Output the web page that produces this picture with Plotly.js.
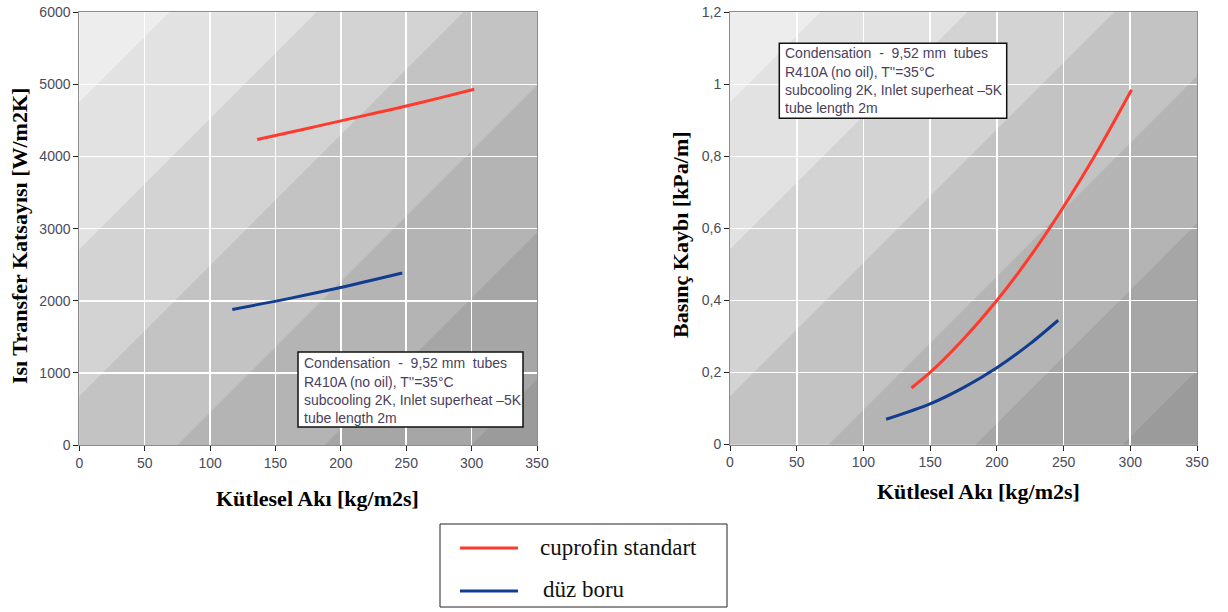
<!DOCTYPE html>
<html>
<head>
<meta charset="utf-8">
<script src="https://cdn.plot.ly/plotly-3.0.1.min.js"></script>
<style>
  html, body { margin: 0; padding: 0; background: #ffffff; }
  #chart { width: 1228px; height: 612px; }
</style>
</head>
<body>
<div id="chart"></div>
<script>
// Mass flux (x, kg/m2s) and results for each tube type
const cuprofinFluxHTC = [136, 170, 200, 230, 250, 275, 302];
const cuprofinHTC     = [4237, 4372, 4495, 4617, 4700, 4810, 4932];
const smoothFluxHTC   = [117, 160, 200, 247];
const smoothHTC       = [1880, 2030, 2185, 2385];

const cuprofinFluxDP  = [136, 150, 175, 200, 225, 250, 275, 301];
const cuprofinDP      = [0.157, 0.20, 0.293, 0.40, 0.522, 0.66, 0.812, 0.985];
const smoothFluxDP    = [117, 150, 175, 200, 225, 246];
const smoothDP        = [0.07, 0.113, 0.158, 0.213, 0.28, 0.345];

// Axis ticks
const fluxTicks   = [0, 50, 100, 150, 200, 250, 300, 350];
const htcTicks    = [0, 1000, 2000, 3000, 4000, 5000, 6000];
const htcLabels   = ['0', '1000', '2000', '3000', '4000', '5000', '6000'];
const dpTicks     = [0, 0.2, 0.4, 0.6, 0.8, 1.0, 1.2];
const dpLabels    = ['0', '0,2', '0,4', '0,6', '0,8', '1', '1,2'];

const seriesNames = ['cuprofin standart', 'düz boru'];
const noteLines = [
  'Condensation  -  9,52 mm  tubes',
  "R410A (no oil), T''=35°C",
  'subcooling 2K, Inlet superheat \u20135K',
  'tube length 2m'
];
const xTitle = 'Kütlesel Akı [kg/m2s]';
const yTitleLeft = 'Isı Transfer Katsayısı [W/m2K]';
const yTitleRight = 'Basınç Kaybı [kPa/m]';

// ---- page geometry (pixels) ----
const W = 1228, H = 612;
const RED = '#ff3a2c', BLUE = '#123c8f';
const plots = [
  { left: 79.3, right: 537, top: 12.3, bottom: 445, xmax: 350, ymax: 6000, xa: 'x', ya: 'y' },
  { left: 730, right: 1197, top: 12.3, bottom: 444.5, xmax: 350, ymax: 1.2, xa: 'x2', ya: 'y2' }
];
const px = x => x / W;
const py = y => 1 - y / H;

// diagonal shading bands (offsets along the diagonal, pixels) and their greys
const bandStarts = [90, 237, 384, 531, 678, 825];
const bandGreys  = ['#e2e2e2', '#d3d3d3', '#c3c3c3', '#b4b4b4', '#a6a6a6', '#9b9b9b'];

const shapes = [];
plots.forEach(p => {
  const pw = p.right - p.left, ph = p.bottom - p.top;
  const toX = u => u / pw * p.xmax;
  const toY = v => (ph - v) / ph * p.ymax;
  bandStarts.forEach((k, i) => {
    const pts = [[k + 2000, -2000], [k - 2000, 2000], [k + 2000, 2000]];
    const d = 'M' + pts.map(q => toX(q[0]) + ',' + toY(q[1])).join(' L') + ' Z';
    shapes.push({ type: 'path', xref: p.xa, yref: p.ya, path: d, layer: 'below',
                  fillcolor: bandGreys[i], line: { width: 0 } });
  });
});

// note boxes
const noteBoxes = [
  { x0: 298, y0: 352, x1: 523, y1: 427, tx: 301.5, ty: [362.7, 381.5, 400, 418.3] },
  { x0: 779.3, y0: 43.3, x1: 1006.7, y1: 118.3, tx: 782.5, ty: [52.7, 71.5, 90, 108.3] }
];
const annotations = [];
noteBoxes.forEach(b => {
  shapes.push({ type: 'rect', xref: 'paper', yref: 'paper', x0: px(b.x0), x1: px(b.x1),
                y0: py(b.y1), y1: py(b.y0), fillcolor: '#ffffff',
                line: { color: '#111111', width: 1.5 }, layer: 'above' });
  noteLines.forEach((t, i) => {
    annotations.push({ xref: 'paper', yref: 'paper', x: px(b.tx), y: py(b.ty[i]),
      xanchor: 'left', yanchor: 'middle', showarrow: false, text: t,
      font: { family: 'Liberation Sans, Arial, sans-serif', size: 14, color: '#4a3f5e' } });
  });
});

// legend box
shapes.push({ type: 'rect', xref: 'paper', yref: 'paper', x0: px(440), x1: px(727),
              y0: py(607), y1: py(524), fillcolor: '#ffffff', line: { color: '#222222', width: 1 } });
[[548, RED], [591, BLUE]].forEach(([y, c]) => {
  shapes.push({ type: 'line', xref: 'paper', yref: 'paper', x0: px(460), x1: px(518),
                y0: py(y), y1: py(y), line: { color: c, width: 3 } });
});
[[547, seriesNames[0], 538], [589, seriesNames[1], 541]].forEach(([y, t, x]) => {
  annotations.push({ xref: 'paper', yref: 'paper', x: px(x), y: py(y), xanchor: 'left',
    yanchor: 'middle', showarrow: false, text: t,
    font: { family: 'Liberation Serif, Times New Roman, serif', size: 23, color: '#111111' } });
});

// axis titles
const titleFont = { family: 'Liberation Serif, Times New Roman, serif', size: 22, color: '#000000' };
annotations.push({ xref: 'paper', yref: 'paper', x: px(317), y: py(498), showarrow: false,
  text: '<b>' + xTitle + '</b>', font: titleFont, xanchor: 'center', yanchor: 'middle' });
annotations.push({ xref: 'paper', yref: 'paper', x: px(978), y: py(491), showarrow: false,
  text: '<b>' + xTitle + '</b>', font: titleFont, xanchor: 'center', yanchor: 'middle' });
annotations.push({ xref: 'paper', yref: 'paper', x: px(20), y: py(236), showarrow: false,
  text: '<b>' + yTitleLeft + '</b>', font: titleFont, textangle: -90, xanchor: 'center', yanchor: 'middle' });
annotations.push({ xref: 'paper', yref: 'paper', x: px(681), y: py(235), showarrow: false,
  text: '<b>' + yTitleRight + '</b>', font: titleFont, textangle: -90, xanchor: 'center', yanchor: 'middle' });

const tickFont = { family: 'Liberation Sans, Arial, sans-serif', size: 14, color: '#4a4a5a' };
function axis(domain, ticks, labels, range, anchor) {
  return {
    domain: domain, range: range, anchor: anchor,
    tickmode: 'array', tickvals: ticks, ticktext: labels,
    showgrid: true, gridcolor: '#ffffff', gridwidth: 1.6, zeroline: false,
    showline: true, linecolor: '#8c8c8c', linewidth: 1, mirror: true,
    ticks: 'outside', ticklen: 5, tickwidth: 1, tickcolor: '#222222',
    tickfont: tickFont, fixedrange: true
  };
}

const line = (c) => ({ color: c, width: 3, shape: 'spline', smoothing: 0.8 });
const traces = [
  { x: cuprofinFluxHTC, y: cuprofinHTC, name: seriesNames[0], mode: 'lines', line: line(RED), xaxis: 'x', yaxis: 'y' },
  { x: smoothFluxHTC, y: smoothHTC, name: seriesNames[1], mode: 'lines', line: line(BLUE), xaxis: 'x', yaxis: 'y' },
  { x: cuprofinFluxDP, y: cuprofinDP, name: seriesNames[0], mode: 'lines', line: line(RED), xaxis: 'x2', yaxis: 'y2' },
  { x: smoothFluxDP, y: smoothDP, name: seriesNames[1], mode: 'lines', line: line(BLUE), xaxis: 'x2', yaxis: 'y2' }
];

const layout = {
  width: W, height: H,
  margin: { l: 0, r: 0, t: 0, b: 0, pad: 0 },
  paper_bgcolor: '#ffffff', plot_bgcolor: '#ededed',
  showlegend: false,
  xaxis:  axis([px(plots[0].left), px(plots[0].right)], fluxTicks, fluxTicks.map(String), [0, 350], 'y'),
  yaxis:  axis([py(plots[0].bottom), py(plots[0].top)], htcTicks, htcLabels, [0, 6000], 'x'),
  xaxis2: axis([px(plots[1].left), px(plots[1].right)], fluxTicks, fluxTicks.map(String), [0, 350], 'y2'),
  yaxis2: axis([py(plots[1].bottom), py(plots[1].top)], dpTicks, dpLabels, [0, 1.2], 'x2'),
  shapes: shapes,
  annotations: annotations
};

Plotly.newPlot('chart', traces, layout, { displayModeBar: false, staticPlot: true });
</script>
</body>
</html>
